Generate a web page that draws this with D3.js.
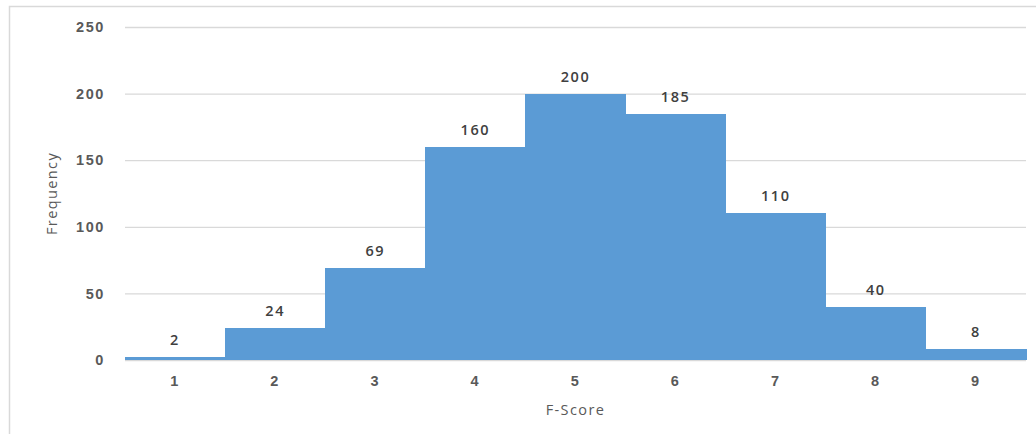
<!DOCTYPE html>
<html>
<head>
<meta charset="utf-8">
<script src="https://cdn.jsdelivr.net/npm/d3@7"></script>
<style>
  html, body { margin: 0; padding: 0; background: #fff; }
  svg { display: block; font-family: "Open Sans", "Liberation Sans", sans-serif; }
  .tick text { fill: #595959; font-size: 14.5px; font-weight: 600; letter-spacing: 1.6px; }
  .label { fill: #404040; font-size: 14.5px; font-weight: 600; letter-spacing: 1.6px; }
  .axis-title { fill: #595959; font-size: 14.5px; letter-spacing: 1.4px; }
</style>
</head>
<body>
<svg id="chart" width="1036" height="434"></svg>
<script>
const scores = ["1", "2", "3", "4", "5", "6", "7", "8", "9"];
const frequencies = [2, 24, 69, 160, 200, 185, 110, 40, 8];
const yTicks = [0, 50, 100, 150, 200, 250];

const margin = { top: 27, right: 10, bottom: 74, left: 125 };
const width = 1036;
const height = 434;
const innerWidth = width - margin.left - margin.right;
const innerHeight = height - margin.top - margin.bottom;

const svg = d3.select("#chart");

// outer chart frame (cropped at right and bottom in the original)
svg.append("path")
  .attr("d", `M9.5,${height} V6.5 H${width}`)
  .attr("fill", "none")
  .attr("stroke", "#d9d9d9")
  .attr("stroke-width", 1.5);

const g = svg.append("g")
  .attr("transform", `translate(${margin.left}, ${margin.top})`);

const x = d3.scaleBand()
  .domain(scores)
  .range([0, innerWidth])
  .padding(0);

const y = d3.scaleLinear()
  .domain([0, 250])
  .range([innerHeight, 0]);

// gridlines
g.append("g")
  .call(d3.axisLeft(y).tickValues(yTicks).tickSize(-innerWidth).tickFormat(""))
  .call((sel) => sel.select(".domain").remove())
  .call((sel) => sel.selectAll("line").attr("stroke", "#d9d9d9").attr("stroke-width", 1.3));

// y tick labels
g.append("g")
  .call(d3.axisLeft(y).tickValues(yTicks).tickSize(0).tickPadding(20))
  .call((sel) => sel.select(".domain").remove())
  .call((sel) => sel.selectAll("text").attr("font-family", null).attr("font-size", null));

// bars
g.selectAll("rect.bar")
  .data(frequencies)
  .enter()
  .append("rect")
  .attr("class", "bar")
  .attr("x", (d, i) => x(scores[i]))
  .attr("y", (d) => y(d))
  .attr("width", x.bandwidth() + 0.5)
  .attr("height", (d) => Math.max(1.5, y(0) - y(d)))
  .attr("fill", "#5b9bd5")
  .attr("shape-rendering", "crispEdges");

// data labels
g.selectAll("text.label")
  .data(frequencies)
  .enter()
  .append("text")
  .attr("class", "label")
  .attr("x", (d, i) => x(scores[i]) + x.bandwidth() / 2)
  .attr("y", (d) => y(d) - 12)
  .attr("text-anchor", "middle")
  .text((d) => d);

// x axis labels
g.append("g")
  .attr("transform", `translate(0, ${innerHeight})`)
  .call(d3.axisBottom(x).tickSize(0).tickPadding(16))
  .call((sel) => sel.select(".domain").remove())
  .call((sel) => sel.selectAll("text").attr("font-family", null).attr("font-size", null));

g.append("text")
  .attr("class", "axis-title")
  .attr("x", innerWidth / 2)
  .attr("y", innerHeight + 55)
  .attr("text-anchor", "middle")
  .text("F-Score");

g.append("text")
  .attr("class", "axis-title")
  .attr("transform", "rotate(-90)")
  .attr("x", -(y(125)))
  .attr("y", -68)
  .attr("text-anchor", "middle")
  .text("Frequency");
</script>
</body>
</html>
